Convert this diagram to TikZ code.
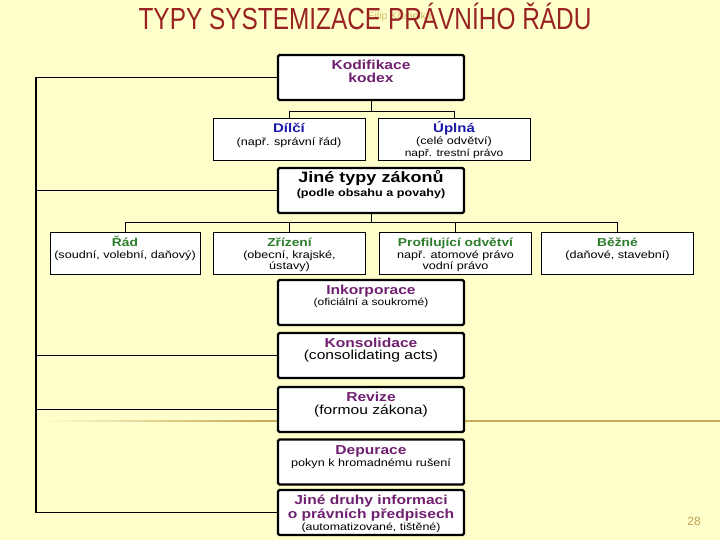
\documentclass[tikz,border=0pt]{standalone}
\usepackage{fontspec}
\setmainfont{Liberation Sans}[FakeStretch=1.2]
\newfontfamily\titlefont{Liberation Sans}[FakeStretch=0.8]
\newfontfamily\plainfont{Liberation Sans}
\definecolor{bgc}{RGB}{255,255,204}
\definecolor{titlec}{RGB}{153,34,34}
\definecolor{purp}{RGB}{112,32,112}
\definecolor{blu}{RGB}{25,25,170}
\definecolor{grn}{RGB}{45,125,45}
\definecolor{goldc}{RGB}{200,170,90}
\definecolor{numc}{RGB}{190,160,80}
\definecolor{faintc}{RGB}{215,190,110}
\newcommand\fs[1]{\fontsize{#1}{#1}\selectfont}
\newcommand\btx[4]{\parbox[c][#1][t]{#2}{\centering\fontsize{10}{#3}\selectfont\lineskiplimit=-20pt\rule{0pt}{14.5pt}#4\par}}
\tikzset{
  colbox/.style={draw, line width=2.4pt, rounded corners=1.5pt, fill=white, minimum width=186pt, minimum height=45pt, inner sep=0pt},
  subbox/.style={draw, line width=0.8pt, fill=white, minimum width=152pt, minimum height=42pt, inner sep=0pt},
  conn/.style={line width=0.9pt},
  bracket/.style={line width=1.1pt},
}
\begin{document}
\begin{tikzpicture}[x=1pt,y=-1pt]
\fill[bgc] (0,0) rectangle (720,540);
\useasboundingbox (0,0) rectangle (720,540);
% decorative line
\shade[left color=bgc, right color=goldc] (40,420.3) rectangle (260,421.8);
\fill[goldc] (259.5,420.3) rectangle (720,421.8);
% faint text and title
\node[anchor=base west, inner sep=0pt, text=faintc, font=\plainfont\fontsize{10.5}{10.5}\selectfont] (faint) at (368,20) {Filip Křepelka};
\node[anchor=base, inner sep=0pt, text=titlec, font=\titlefont\fontsize{30.5}{30.5}\selectfont] (title) at (365,30) {TYPY SYSTEMIZACE PRÁVNÍHO ŘÁDU};
\node[inner sep=0pt, text=numc, font=\plainfont\fontsize{12}{12}\selectfont] (num) at (694,521) {28};

% column boxes
\node[colbox] (kod) at (371,77.5) {\btx{45pt}{180pt}{13pt}{{\fs{13}\bfseries\color{purp}Kodifikace}\\{\fs{13}\bfseries\color{purp}kodex}}};
\node[colbox] (jtz) at (371,190.5) {\btx{45pt}{180pt}{14pt}{{\fs{15}\bfseries Jiné typy zákonů}\\{\fs{10.5}\bfseries (podle obsahu a povahy)}}};
\node[colbox] (ink) at (371,302.5) {\btx{45pt}{180pt}{11pt}{{\fs{13}\bfseries\color{purp}Inkorporace}\\{\fs{10}(oficiální a soukromé)}}};
\node[colbox] (kon) at (371,355.5) {\btx{45pt}{180pt}{12pt}{{\fs{13}\bfseries\color{purp}Konsolidace}\\{\fs{13}(consolidating acts)}}};
\node[colbox] (rev) at (371,409.5) {\btx{45pt}{180pt}{13pt}{{\fs{13}\bfseries\color{purp}Revize}\\{\fs{13}(formou zákona)}}};
\node[colbox] (dep) at (371,462) {\btx{45pt}{180pt}{12pt}{{\fs{13}\bfseries\color{purp}Depurace}\\{\fs{10.5}pokyn k hromadnému rušení}}};
\node[colbox] (jdr) at (371,512.5) {\btx{45pt}{180pt}{14pt}{{\fs{13}\bfseries\color{purp}Jiné druhy informaci}\\{\fs{13}\bfseries\color{purp}o právních předpisech}\\[-2pt]{\fs{10.3}(automatizované, tištěné)}}};

% level 2 boxes
\node[subbox] (dil) at (289,139) {\btx{42pt}{146pt}{13pt}{{\fs{12.5}\bfseries\color{blu}Dílčí}\\{\fs{10.5}(např. správní řád)}}};
\node[subbox] (upl) at (454,139) {\btx{42pt}{146pt}{12pt}{{\fs{12.5}\bfseries\color{blu}Úplná}\\{\fs{10.5}(celé odvětví)}\\{\fs{10}např. trestní právo}}};
\node[subbox, minimum width=150pt] (rad) at (125,253) {\btx{42pt}{146pt}{12pt}{{\fs{11.5}\bfseries\color{grn}Řád}\\{\fs{10.5}(soudní, volební, daňový)}}};
\node[subbox] (zri) at (289.5,253) {\btx{42pt}{146pt}{11.5pt}{{\fs{11.5}\bfseries\color{grn}Zřízení}\\{\fs{10.5}(obecní, krajské,}\\{\fs{10.5}ústavy)}}};
\node[subbox] (pro) at (455.5,253) {\btx{42pt}{146pt}{11.5pt}{{\fs{11.5}\bfseries\color{grn}Profilující odvětví}\\{\fs{10.5}např. atomové právo}\\{\fs{10.5}vodní právo}}};
\node[subbox] (bez) at (617.5,253) {\btx{42pt}{146pt}{12pt}{{\fs{11.5}\bfseries\color{grn}Běžné}\\{\fs{10.5}(daňové, stavební)}}};

% org connectors
\coordinate (b1) at (371,111);
\coordinate (b2) at (371,222);
\draw[conn] (kod.south) -- (b1);
\draw[conn] (dil.north) -- (dil.north |- b1) -- (upl.north |- b1) -- (upl.north);
\draw[conn] (jtz.south) -- (b2);
\draw[conn] (rad.north) -- (rad.north |- b2) -- (bez.north |- b2) -- (bez.north);
\draw[conn] (zri.north) -- (zri.north |- b2);
\draw[conn] (pro.north) -- (pro.north |- b2);

% left bracket
\coordinate (L) at (36,0);
\draw[bracket] (kod.west) -- (kod.west -| L) -- (jdr.west -| L) -- (jdr.west);
\draw[bracket] (jtz.west) -- (jtz.west -| L);
\draw[bracket] (kon.west) -- (kon.west -| L);
\draw[bracket] (rev.west) -- (rev.west -| L);
\end{tikzpicture}
\end{document}
